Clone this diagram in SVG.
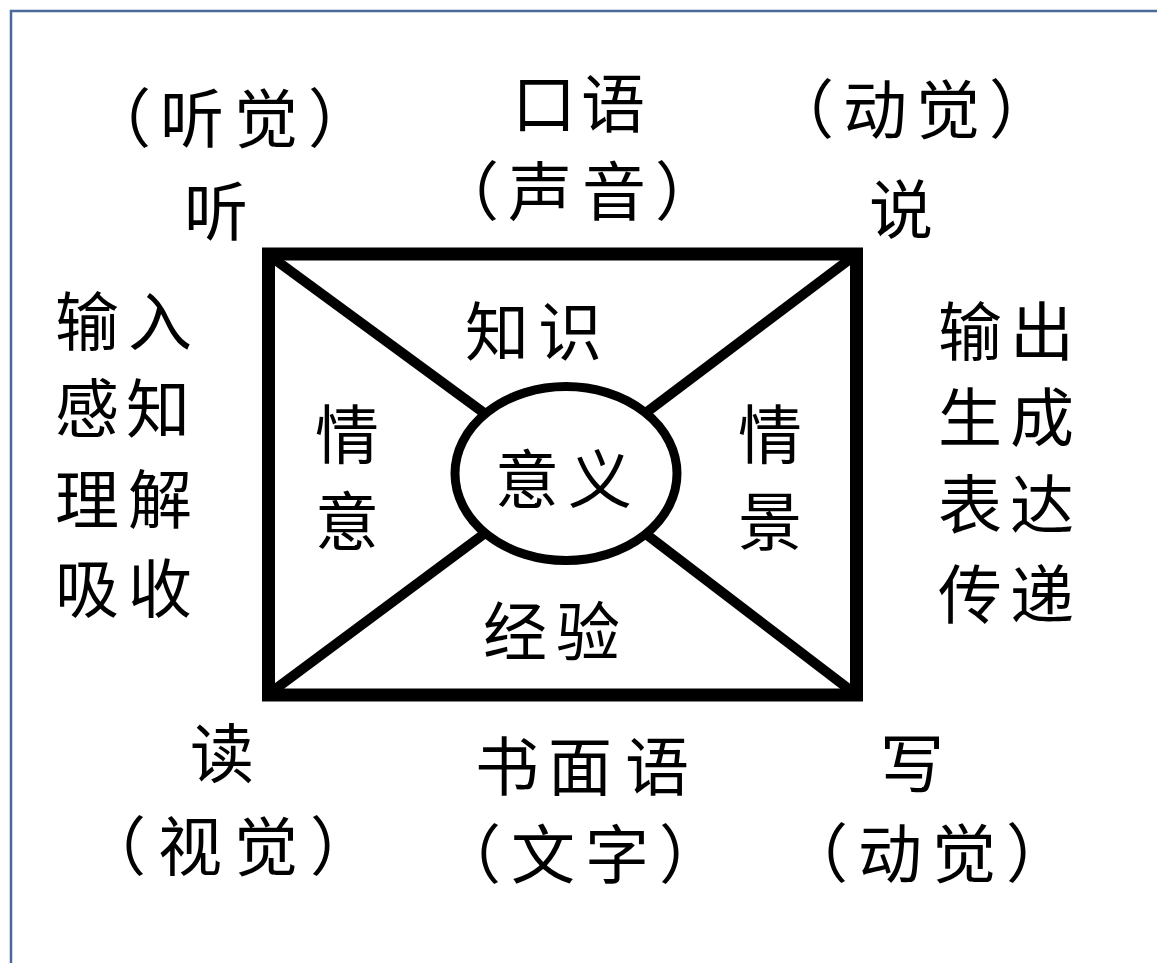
<svg xmlns="http://www.w3.org/2000/svg" width="1157" height="963" viewBox="0 0 1157 963">
<style>
.t{font-family:"Noto Sans CJK SC","Noto Sans CJK JP",sans-serif;font-size:64px;fill:#000;text-anchor:middle}
.frame{fill:none;stroke:#000;stroke-width:13}
.diag{stroke:#000;stroke-width:10;fill:none}
.core{fill:#fff;stroke:#000;stroke-width:9}
.border{stroke:#4a6a9a;stroke-width:2.5;fill:none}
</style>
<rect x="0" y="0" width="1157" height="963" fill="#fff"/>
<g id="page-border">
<path class="border" d="M11,963 V11 H1157"/>
</g>
<g id="connectors">
<line class="diag" x1="270" y1="256" x2="566" y2="473"/>
<line class="diag" x1="854" y1="256" x2="566" y2="473"/>
<line class="diag" x1="270" y1="693" x2="566" y2="473"/>
<line class="diag" x1="854" y1="693" x2="566" y2="473"/>
</g>
<g id="frame-node">
<rect class="frame" x="268.5" y="254" width="588" height="441"/>
</g>
<g id="meaning-node">
<ellipse class="core" cx="566" cy="473.5" rx="111" ry="87"/>
<text class="t" x="527 600" y="503">意义</text>
</g>
<g id="knowledge-node"><text class="t" x="497 570" y="355">知识</text></g>
<g id="experience-node"><text class="t" x="515 588" y="655">经验</text></g>
<g id="emotion-node"><text class="t" x="347" y="458">情</text><text class="t" x="347" y="545">意</text></g>
<g id="situation-node"><text class="t" x="770" y="458">情</text><text class="t" x="770" y="545">景</text></g>
<g id="listen-node">
<text class="t" x="119 192 266 340" y="142">（听觉）</text>
<text class="t" x="216" y="235">听</text>
</g>
<g id="oral-node">
<text class="t" x="544 613" y="127">口语</text>
<text class="t" x="467 540 614 687" y="215">（声音）</text>
</g>
<g id="speak-node">
<text class="t" x="802 875 948 1021" y="133">（动觉）</text>
<text class="t" x="901" y="233">说</text>
</g>
<g id="input-node">
<text class="t" x="87 160" y="345">输入</text>
<text class="t" x="87 158" y="432">感知</text>
<text class="t" x="87 160" y="523">理解</text>
<text class="t" x="87 160" y="612">吸收</text>
</g>
<g id="output-node">
<text class="t" x="970 1042" y="355">输出</text>
<text class="t" x="970 1042" y="441">生成</text>
<text class="t" x="970 1042" y="528">表达</text>
<text class="t" x="970 1042" y="618">传递</text>
</g>
<g id="read-node">
<text class="t" x="222" y="777">读</text>
<text class="t" x="114 190 266 342" y="870">（视觉）</text>
</g>
<g id="written-node">
<text class="t" x="507 580 657" y="790">书面语</text>
<text class="t" x="469 543 617 691" y="878">（文字）</text>
</g>
<g id="write-node">
<text class="t" x="912" y="787">写</text>
<text class="t" x="816 890 964 1038" y="877">（动觉）</text>
</g>
</svg>
